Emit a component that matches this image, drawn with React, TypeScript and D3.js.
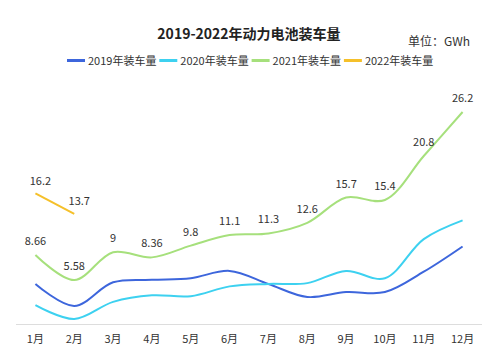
import React from "react";
import * as d3 from "d3";

const months = ["1月", "2月", "3月", "4月", "5月", "6月", "7月", "8月", "9月", "10月", "11月", "12月"];
const v2019 = [5.1, 2.4, 5.3, 5.6, 5.8, 6.7, 5.1, 3.5, 4.1, 4.1, 6.6, 9.7];
const v2020 = [2.5, 0.8, 2.9, 3.7, 3.6, 4.8, 5.1, 5.2, 6.7, 5.8, 10.6, 12.9];
const v2021 = [8.66, 5.58, 9, 8.36, 9.8, 11.1, 11.3, 12.6, 15.7, 15.4, 20.8, 26.2];
const v2022 = [16.2, 13.7];
const seriesNames = ["2019年装车量", "2020年装车量", "2021年装车量", "2022年装车量"];
const seriesColors = ["#3d66dc", "#3dd1f0", "#a6e07c", "#f5c02a"];

const FONT = "'Noto Sans CJK SC', 'Noto Sans', sans-serif";

export default function App() {
  const width = 500;
  const height = 364;

  const x = d3.scaleBand<string>().domain(months).range([16, 482]);
  const cx = (i: number) => (x(months[i]) as number) + x.bandwidth() / 2;
  const y = d3.scaleLinear().domain([0, 26.2]).range([325.5, 112]);

  const line = d3
    .line<number>()
    .x((_, i) => cx(i))
    .y(d => y(d))
    .curve(d3.curveCatmullRom.alpha(0.5));

  const all = [v2019, v2020, v2021, v2022];

  return (
    <svg width={width} height={height} style={{ position: "absolute", left: 0, top: 0, background: "#fff" }}>
      <rect width={width} height={height} fill="#fff" />
      <text x={249} y={39} textAnchor="middle" fontFamily={FONT} fontSize={14} fontWeight="bold" fill="#222">
        2019-2022年动力电池装车量
      </text>
      <text x={408} y={46} fontFamily={FONT} fontSize={12} fill="#333">
        单位：GWh
      </text>

      {seriesNames.map((n, i) => {
        const lx = 67 + i * 92.3;
        return (
          <g key={n}>
            <line x1={lx} x2={lx + 18} y1={60.5} y2={60.5} stroke={seriesColors[i]} strokeWidth={3} />
            <text x={lx + 21} y={64.5} fontFamily={FONT} fontSize={11} fill="#333">
              {n}
            </text>
          </g>
        );
      })}

      <line x1={16} x2={482} y1={324.5} y2={324.5} stroke="#ddd" strokeWidth={1} />
      {months.map((m, i) => (
        <text key={m} x={cx(i)} y={342.5} textAnchor="middle" fontFamily={FONT} fontSize={11} fill="#333">
          {m}
        </text>
      ))}

      {all.map((s, k) => (
        <path key={k} d={line(s) || ""} fill="none" stroke={seriesColors[k]} strokeWidth={2} />
      ))}

      {v2021.map((v, i) => (
        <text key={"l21" + i} x={cx(i)} y={y(v) - 10} textAnchor="middle" fontFamily={FONT} fontSize={11} fill="#333">
          {v}
        </text>
      ))}
      {v2022.map((v, i) => (
        <text key={"l22" + i} x={cx(i) + 5} y={y(v) - 8.5} textAnchor="middle" fontFamily={FONT} fontSize={11} fill="#333">
          {v}
        </text>
      ))}
    </svg>
  );
}
